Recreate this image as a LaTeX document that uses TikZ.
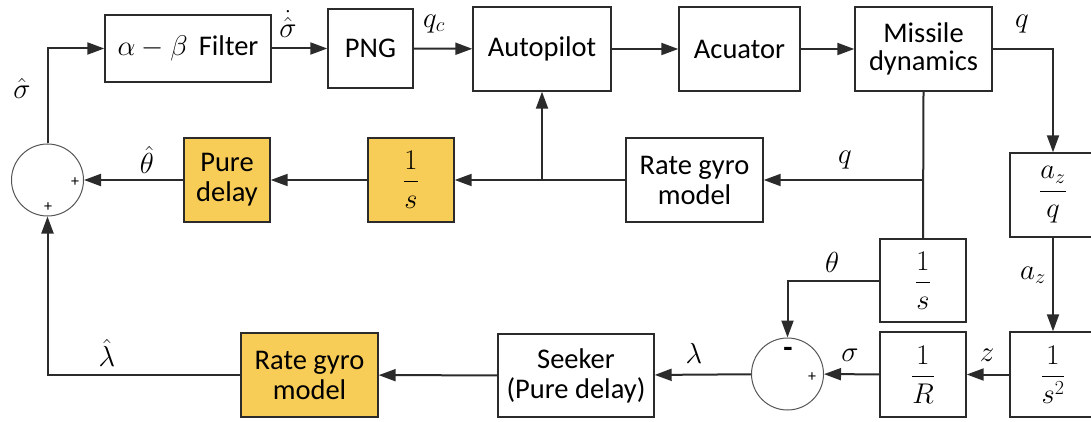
\RequirePackage{fix-cm}
\documentclass[tikz,border=0pt]{standalone}
\usepackage{amsmath}
\usepackage{fontspec}
\setmainfont{Carlito}
\usetikzlibrary{arrows.meta,positioning}
\definecolor{gold}{HTML}{F8CD57}
\definecolor{ink}{HTML}{2B2B2B}

\begin{document}
\begin{tikzpicture}[x=1pt,y=-1pt,
  box/.style={draw=ink,line width=1.4pt,minimum width=86pt,minimum height=84pt,inner sep=2pt,align=center,font=\fontsize{28.5}{33}\selectfont},
  sum/.style={circle,draw=ink!80,line width=1pt,minimum size=72pt,inner sep=0pt},
  arrow/.style={-{Triangle[length=17pt,width=12pt]},line width=2pt,draw=ink},
  wire/.style={line width=2pt,draw=ink},
  lbl/.style={font=\fontsize{29}{33}\selectfont,inner sep=0pt},
  sign/.style={font=\fontsize{16}{18}\selectfont,inner sep=0pt}
]
\useasboundingbox (0,0) rectangle (1091,422);
% forward path
\node[box,minimum width=166pt,minimum height=67pt] (filt) at (188,48.5) {$\alpha-\beta$\, Filter};
\node[box,minimum width=85pt,minimum height=79pt] (png) at (370.5,48.5) {PNG};
\node[box,minimum width=138pt] (auto) at (542,49) {Autopilot};
\node[box,minimum width=121pt] (act) at (739.5,49) {Acuator};
\node[box,minimum width=137pt] (md) at (923.5,49) {Missile\\[-5pt]dynamics};
% inner loop
\node[box,minimum width=137pt] (gyro) at (694.5,180) {Rate gyro\\[-3pt]model};
\node[box,fill=gold] (integ) at (411,180) {$\dfrac{1}{s}$};
\node[box,fill=gold] (delay) at (227,180) {Pure\\[-3pt]delay};
\node[sum] (sum1) at (47.5,180) {};
% kinematics
\node[box] (azq) at (1053,195) {$\dfrac{a_z}{q}$};
\node[box,minimum height=83pt] (theta) at (923,280.5) {$\dfrac{1}{s}$};
\node[box,minimum height=85pt] (dbl) at (1053,374.5) {$\dfrac{1}{s^2}$};
\node[box,minimum height=85pt] (rinv) at (923,374.5) {$\dfrac{1}{R}$};
\node[sum] (sum2) at (787.5,374) {};
\node[box,minimum width=156pt,minimum height=83pt] (seek) at (576,375.5) {Seeker\\[-3pt](Pure delay)};
\node[box,minimum width=137pt,fill=gold] (gyro2) at (309.5,375) {Rate gyro\\[-3pt]model};
% signs
\node[sign] (p1) at (75,182) {+};
\node[sign] (p2) at (48,207) {+};
\node[sign,font=\fontsize{30}{32}\selectfont\bfseries] (m3) at (788,352) {-};
\node[sign] (p4) at (812,377) {+};
% taps
\coordinate (tapq) at (md.south |- gyro);
\coordinate (tapa) at (auto.south |- gyro);
% connectors
\draw[arrow] (filt) -- (png);
\draw[arrow] (png) -- (auto);
\draw[arrow] (auto) -- (act);
\draw[arrow] (act) -- (md);
\draw[arrow] (md.east) -| (azq.north);
\draw[arrow] (azq) -- (dbl);
\draw[arrow] (dbl) -- (rinv);
\draw[arrow] (rinv) -- (sum2);
\draw[arrow] (sum2) -- (seek);
\draw[arrow] (seek) -- (gyro2);
\draw[arrow] (gyro2.west) -| (sum1.south);
\draw[arrow] (theta.west) -| (sum2.north);
\draw[wire] (md.south) -- (theta.north);
\draw[arrow] (tapq) -- (gyro);
\draw[arrow] (gyro) -- (integ);
\draw[arrow] (tapa) -- (auto.south);
\draw[arrow] (integ) -- (delay);
\draw[arrow] (delay) -- (sum1);
\draw[arrow] (sum1.north) |- (filt.west);
% signal labels
\node[lbl] (sdh) at (288,24) {$\dot{\hat{\sigma}}$};
\node[lbl] (qc) at (434,24) {$q_c$};
\node[lbl] (qo) at (1022,24) {$q$};
\node[lbl] (qi) at (845,160) {$q$};
\node[lbl] (az) at (1033,275) {$a_z$};
\node[lbl] (zz) at (987,355) {$z$};
\node[lbl] (sg) at (850,355) {$\sigma$};
\node[lbl] (th) at (832,262) {$\theta$};
\node[lbl] (lam) at (694,353) {$\lambda$};
\node[lbl] (lamh) at (107,353) {$\hat{\lambda}$};
\node[lbl] (thh) at (147,160) {$\hat{\theta}$};
\node[lbl] (sgh) at (22,88) {$\hat{\sigma}$};
\end{tikzpicture}
\end{document}
